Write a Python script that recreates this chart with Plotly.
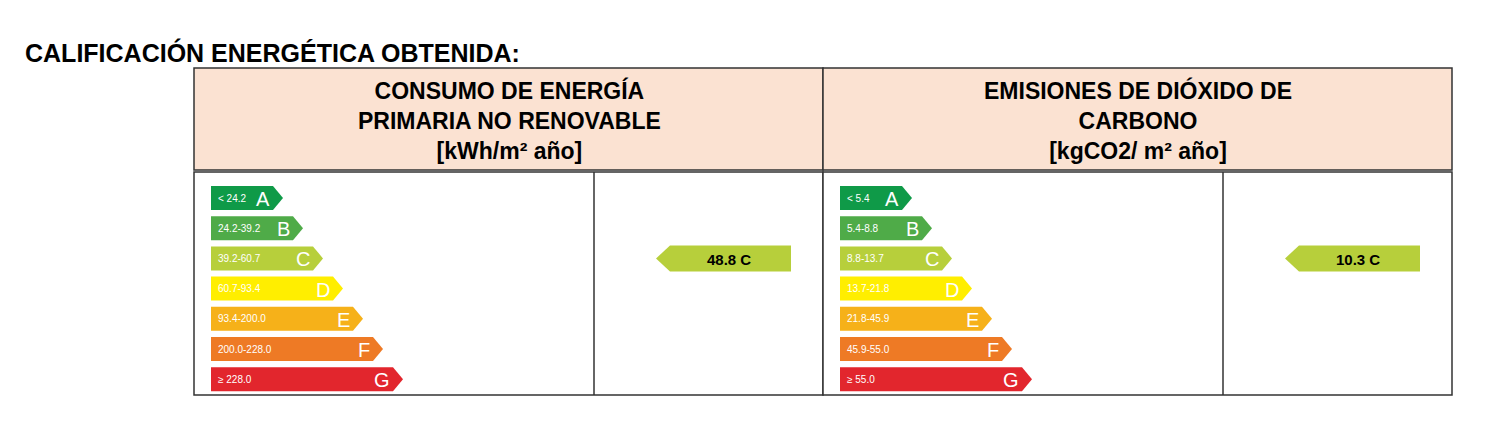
import plotly.graph_objects as go

letters = ["A", "B", "C", "D", "E", "F", "G"]
colors = ["#0f9a48", "#4fab48", "#b7cf3b", "#ffee00", "#f6b119", "#ee7a25", "#e2262d"]
energy_ranges = ["< 24.2", "24.2-39.2", "39.2-60.7", "60.7-93.4", "93.4-200.0", "200.0-228.0", "≥ 228.0"]
co2_ranges = ["< 5.4", "5.4-8.8", "8.8-13.7", "13.7-21.8", "21.8-45.9", "45.9-55.0", "≥ 55.0"]
energy_value = 48.8
co2_value = 10.3
energy_class = "C"
co2_class = "C"
titles = ["CONSUMO DE ENERGÍA<br>PRIMARIA NO RENOVABLE<br>[kWh/m² año]",
          "EMISIONES DE DIÓXIDO DE<br>CARBONO<br>[kgCO2/ m² año]"]

W, H = 1500, 425
fig = go.Figure()
shapes, ann = [], []
F = "Liberation Sans, Arial, sans-serif"

ann.append(dict(x=22, y=52, text="<b>CALIFICACIÓN ENERGÉTICA OBTENIDA:</b>", showarrow=False,
                xanchor="left", yanchor="middle", font=dict(family=F, size=25, color="black")))

panels = [(193, energy_ranges, energy_value, energy_class, titles[0]),
          (822, co2_ranges, co2_value, co2_class, titles[1])]
for x0, ranges, val, cls, title in panels:
    x1 = x0 + 629
    shapes.append(dict(type="rect", x0=x0, x1=x1, y0=68, y1=170, fillcolor="#fbe2d2", layer="below",
                       line=dict(color="#333", width=1.5)))
    shapes.append(dict(type="rect", x0=x0, x1=x1, y0=172, y1=395, fillcolor="white", layer="below",
                       line=dict(color="#333", width=1.5)))
    shapes.append(dict(type="line", x0=x0 + 400, x1=x0 + 400, y0=172, y1=395, layer="below",
                       line=dict(color="#333", width=1.5)))
    ann.append(dict(x=x0 + 315, y=120, text="<b>" + title + "</b>", showarrow=False,
                    font=dict(family=F, size=23, color="black"), align="center"))
    for i, (lab, c, r) in enumerate(zip(letters, colors, ranges)):
        yc = 198 + i * 30.2
        h = 12
        xs = x0 + 17
        xe = x0 + 89 + i * 20
        fig.add_trace(go.Scatter(x=[xs, xe - 10, xe, xe - 10, xs, xs],
                                 y=[yc - h, yc - h, yc, yc + h, yc + h, yc - h],
                                 fill="toself", fillcolor=c, line=dict(width=0), mode="lines",
                                 hoverinfo="skip", showlegend=False))
        ann.append(dict(x=xs + 5, y=yc, text=r, showarrow=False, xanchor="left",
                        font=dict(family=F, size=10, color="white")))
        ann.append(dict(x=xe - 11, y=yc + 1, text=lab, showarrow=False, xanchor="right",
                        font=dict(family=F, size=20, color="white")))
    ci = letters.index(cls)
    yc = 258.5
    xa, xb = x0 + 462, x0 + 597
    fig.add_trace(go.Scatter(x=[xa, xa + 14, xb, xb, xa + 14, xa],
                             y=[yc, yc - 13, yc - 13, yc + 13, yc + 13, yc],
                             fill="toself", fillcolor=colors[ci], line=dict(width=0), mode="lines",
                             hoverinfo="skip", showlegend=False))
    ann.append(dict(x=xa + 73, y=yc + 1, text=f"<b>{val} {cls}</b>", showarrow=False,
                    font=dict(family=F, size=15, color="black")))

fig.update_layout(width=W, height=H, margin=dict(l=0, r=0, t=0, b=0),
                  plot_bgcolor="white", paper_bgcolor="white", shapes=shapes, annotations=ann,
                  xaxis=dict(range=[7, W + 7], visible=False, fixedrange=True),
                  yaxis=dict(range=[H + 8, 8], visible=False, fixedrange=True))
fig.write_html("out.html")
